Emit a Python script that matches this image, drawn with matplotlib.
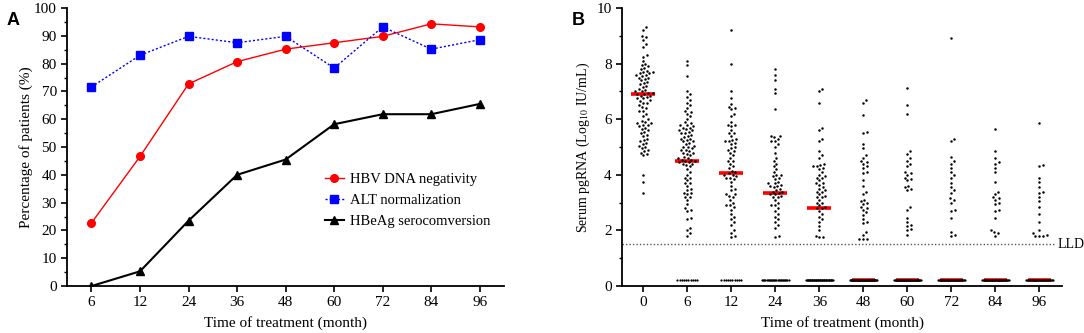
import numpy as np
import matplotlib
matplotlib.use("Agg")
import matplotlib.pyplot as plt
from matplotlib.ticker import MultipleLocator

plt.rcParams['font.family'] = ['Liberation Serif', 'DejaVu Serif']
plt.rcParams['mathtext.fontset'] = 'stix'

# ---- panel A data ----
months_a = ['6', '12', '24', '36', '48', '60', '72', '84', '96']
hbv_dna = [22.7, 46.6, 72.7, 80.7, 85.2, 87.5, 89.8, 94.3, 93.2]
alt_norm = [71.6, 83.0, 89.8, 87.5, 89.8, 78.4, 93.2, 85.2, 88.6]
hbeag = [0.0, 5.3, 23.5, 40.0, 45.5, 58.2, 61.8, 61.8, 65.5]

# ---- panel B data ----
months_b = ['0', '6', '12', '24', '36', '48', '60', '72', '84', '96']
pg_m0 = [9.3, 9.2, 9.0, 8.95, 8.85, 8.7, 8.6, 8.3, 8.25, 8.1, 8.0, 7.95, 7.9, 7.85, 7.8,
         7.75, 7.7, 7.7, 7.65, 7.65, 7.6, 7.6, 7.55, 7.5, 7.5, 7.45, 7.4, 7.35, 7.3, 7.25,
         7.2, 7.15, 7.1, 7.05, 7.0, 7.0, 6.95, 6.95, 6.9, 6.9, 6.85, 6.85, 6.8, 6.75, 6.75,
         6.7, 6.65, 6.6, 6.6, 6.5, 6.45, 6.4, 6.3, 6.3, 6.2, 6.1, 6.0, 5.95, 5.9, 5.85,
         5.85, 5.8, 5.8, 5.75, 5.7, 5.65, 5.6, 5.55, 5.5, 5.45, 5.4, 5.3, 5.25, 5.2, 5.15,
         5.1, 5.05, 5.0, 4.95, 4.9, 4.85, 4.8, 4.75, 4.7, 4.0, 3.75, 3.35]
pg_m6 = [8.1, 7.95, 7.55, 7.0, 6.9, 6.8, 6.7, 6.6, 6.5, 6.4, 6.3, 6.25, 6.2, 6.1, 6.0,
         5.9, 5.85, 5.8, 5.8, 5.75, 5.7, 5.7, 5.65, 5.6, 5.6, 5.55, 5.5, 5.5, 5.45, 5.4,
         5.35, 5.3, 5.3, 5.25, 5.2, 5.2, 5.15, 5.1, 5.05, 5.0, 5.0, 4.95, 4.9, 4.9, 4.85,
         4.8, 4.8, 4.75, 4.7, 4.65, 4.6, 4.6, 4.55, 4.55, 4.5, 4.5, 4.45, 4.45, 4.4, 4.4,
         4.35, 4.3, 4.2, 4.1, 4.0, 3.9, 3.9, 3.8, 3.7, 3.7, 3.6, 3.5, 3.45, 3.35, 3.35,
         3.3, 3.2, 3.2, 3.1, 2.95, 2.8, 2.75, 2.7, 2.45, 2.4, 2.1, 2.0, 1.9, 1.8]
pg_m12 = [9.2, 8.0, 7.0, 6.75, 6.55, 6.45, 6.4, 6.35, 6.2, 6.1, 5.9, 5.8, 5.8, 5.75, 5.6,
          5.5, 5.5, 5.4, 5.3, 5.25, 5.2, 5.2, 5.15, 5.1, 5.0, 4.95, 4.9, 4.85, 4.8, 4.7,
          4.6, 4.5, 4.5, 4.4, 4.3, 4.25, 4.15, 4.1, 4.05, 4.0, 4.0, 3.95, 3.9, 3.9, 3.85,
          3.75, 3.6, 3.5, 3.45, 3.3, 3.3, 3.25, 3.2, 3.1, 3.0, 2.9, 2.9, 2.85, 2.75, 2.6,
          2.5, 2.4, 2.3, 2.2, 2.0, 1.9, 1.8, 1.75]
pg_m24 = [7.8, 7.6, 7.4, 7.1, 6.95, 6.35, 5.4, 5.4, 5.35, 5.3, 5.2, 5.2, 5.1, 5.0, 4.8,
          4.6, 4.5, 4.4, 4.3, 4.2, 4.1, 4.0, 4.0, 3.95, 3.9, 3.85, 3.75, 3.7, 3.7, 3.65,
          3.6, 3.6, 3.55, 3.5, 3.45, 3.4, 3.4, 3.35, 3.3, 3.3, 3.25, 3.2, 3.2, 3.1, 3.0,
          2.9, 2.9, 2.8, 2.7, 2.6, 2.5, 2.4, 2.3, 2.2, 2.1, 1.8, 1.75]
pg_m36 = [7.1, 7.0, 6.6, 5.7, 5.6, 5.3, 5.2, 4.85, 4.7, 4.6, 4.4, 4.35, 4.3, 4.3, 4.25,
          4.2, 4.1, 4.0, 3.95, 3.9, 3.9, 3.8, 3.7, 3.7, 3.65, 3.55, 3.5, 3.45, 3.4, 3.4,
          3.3, 3.25, 3.2, 3.2, 3.1, 3.0, 3.0, 2.9, 2.85, 2.8, 2.8, 2.7, 2.6, 2.5, 2.4,
          2.3, 2.15, 2.0, 1.8, 1.75, 1.75]
pg_m48 = [6.7, 6.6, 6.15, 5.55, 5.5, 5.1, 4.95, 4.7, 4.6, 4.5, 4.45, 4.4, 4.3, 4.25, 4.1,
          4.05, 3.8, 3.6, 3.4, 3.3, 3.1, 3.05, 3.0, 2.95, 2.85, 2.8, 2.75, 2.65, 2.55, 2.4,
          2.3, 2.25, 1.95, 1.85, 1.7, 1.7, 1.7]
pg_m60 = [7.12, 6.5, 6.2, 4.85, 4.75, 4.6, 4.5, 4.4, 4.3, 4.1, 4.05, 4.0, 3.9, 3.85, 3.8,
          3.6, 3.55, 3.5, 3.45, 2.85, 2.75, 2.45, 2.3, 2.2, 2.15, 2.05, 2.0, 1.85]
pg_m72 = [8.92, 5.3, 5.2, 4.65, 4.5, 4.4, 4.25, 4.1, 4.0, 3.9, 3.7, 3.55, 3.45, 3.35, 3.15,
          3.1, 3.0, 2.75, 2.7, 2.45, 1.95, 1.85, 1.8]
pg_m84 = [5.65, 4.85, 4.6, 4.45, 4.4, 4.25, 4.1, 3.75, 3.4, 3.3, 3.2, 3.15, 3.1, 3.0, 2.95,
          2.75, 2.7, 2.45, 2.0, 1.95, 1.9, 1.8]
pg_m96 = [5.85, 4.35, 4.3, 3.9, 3.75, 3.55, 3.4, 3.35, 3.2, 3.05, 2.85, 2.6, 2.3, 2.0, 1.9,
          1.85, 1.8, 1.8, 1.8]
pg_groups = [pg_m0, pg_m6, pg_m12, pg_m24, pg_m36, pg_m48, pg_m60, pg_m72, pg_m84, pg_m96]
undetect_n = [0, 10, 10, 25, 40, 45, 40, 35, 35, 30]   # patients below LLD
undetect_val = 0.2
medians = [6.9, 4.5, 4.05, 3.35, 2.82, 0.2, 0.2, 0.2, 0.2, 0.2]
lld = 1.5

# pixel scale of panel B (for the swarm layout)
PX_PER_CAT = 44.0
PX_PER_UNIT = 27.8


def swarm_offsets(vals, dmin=3.6, step=0.5):
    # simple beeswarm: place each point at the smallest |dx| free of overlap (pixels)
    vals = np.asarray(vals, dtype=float)
    order = np.argsort(vals)
    placed = []
    offs = np.zeros(len(vals))
    for k in order:
        y = vals[k] * PX_PER_UNIT
        near = [(px, py) for px, py in placed if abs(py - y) < dmin]
        j = 0
        while True:
            cands = [0.0] if j == 0 else [j * step, -j * step]
            ok = None
            for c in cands:
                if all((c - px) ** 2 + (y - py) ** 2 >= dmin ** 2 for px, py in near):
                    ok = c
                    break
            if ok is not None:
                break
            j += 1
        placed.append((ok, y))
        offs[k] = ok / PX_PER_CAT
    return offs


fig = plt.figure(figsize=(10.84, 3.33), dpi=100)
ax1 = fig.add_axes([0.062, 0.141, 0.403, 0.835])
ax2 = fig.add_axes([0.574, 0.141, 0.406, 0.835])

# ---------------- panel A ----------------
xa = np.arange(len(months_a))
ax1.plot(xa, hbv_dna, color='#ff0000', lw=1.0, marker='o', ms=5.5, label='HBV DNA negativity')
ax1.plot(xa, alt_norm, color='#0000ff', lw=1.0, ls=(0, (1.5, 1.5)), marker='s', ms=5.5,
         label='ALT normalization')
ax1.plot(xa, hbeag, color='black', lw=1.5, marker='^', ms=5.5, label='HBeAg serocomversion')
ax1.set_xlim(-0.5, 8.5)
ax1.set_ylim(0, 100)
ax1.set_xticks(xa)
ax1.set_xticklabels(months_a)
ax1.yaxis.set_major_locator(MultipleLocator(10))
ax1.yaxis.set_minor_locator(MultipleLocator(5))
ax1.set_xlabel('Time of treatment (month)', fontsize=11, labelpad=5)
ax1.set_ylabel('Percentage of patients (%)', fontsize=11, labelpad=1)
ax1.legend(loc='upper left', bbox_to_anchor=(0.56, 0.455), frameon=False, fontsize=10.5,
           handlelength=1.3, labelspacing=0.55, handletextpad=0.45)

# ---------------- panel B ----------------
for i, vals in enumerate(pg_groups):
    ax2.hlines(medians[i], i - 0.27, i + 0.27, color='#ff0000', lw=2.6, zorder=2)
    offs = swarm_offsets(vals)
    ax2.scatter(i + offs, vals, s=3.2, color='black', linewidths=0, zorder=3)
    n = undetect_n[i]
    if n > 0:
        d = min(0.05, 0.6 / (n - 1))
        uoff = (np.arange(n) - (n - 1) / 2) * d
        ax2.scatter(i + uoff, np.full(n, undetect_val), s=2.6, color='black',
                    linewidths=0, zorder=3)

ax2.axhline(lld, color='#555555', lw=1.0, ls=(0, (1, 1.5)), xmax=0.984, zorder=1)
ax2.text(9.4, lld, 'LLD', fontsize=10, va='center', ha='left', clip_on=False)
ax2.set_xlim(-0.48, 9.52)
ax2.set_ylim(0, 10)
ax2.set_xticks(np.arange(len(months_b)))
ax2.set_xticklabels(months_b)
ax2.yaxis.set_major_locator(MultipleLocator(2))
ax2.yaxis.set_minor_locator(MultipleLocator(1))
ax2.set_xlabel('Time of treatment (month)', fontsize=11, labelpad=5)
ax2.set_ylabel('Serum pgRNA (Log$_{10}$ IU/mL)', fontsize=10, labelpad=3)

for ax in (ax1, ax2):
    ax.spines['top'].set_visible(False)
    ax.spines['right'].set_visible(False)
    ax.spines['left'].set_linewidth(1.3)
    ax.spines['bottom'].set_linewidth(1.3)
    ax.tick_params(axis='both', which='major', direction='out', length=4, width=1.2,
                   labelsize=11)
    ax.tick_params(axis='y', which='minor', direction='out', length=2.5, width=1.0)
    ax.tick_params(axis='x', which='minor', bottom=False)

fig.text(0.006, 0.965, 'A', fontsize=13, fontweight='bold', family='Liberation Sans',
         va='top')
fig.text(0.527, 0.965, 'B', fontsize=13, fontweight='bold', family='Liberation Sans',
         va='top')

fig.savefig('out.png', dpi=100)
